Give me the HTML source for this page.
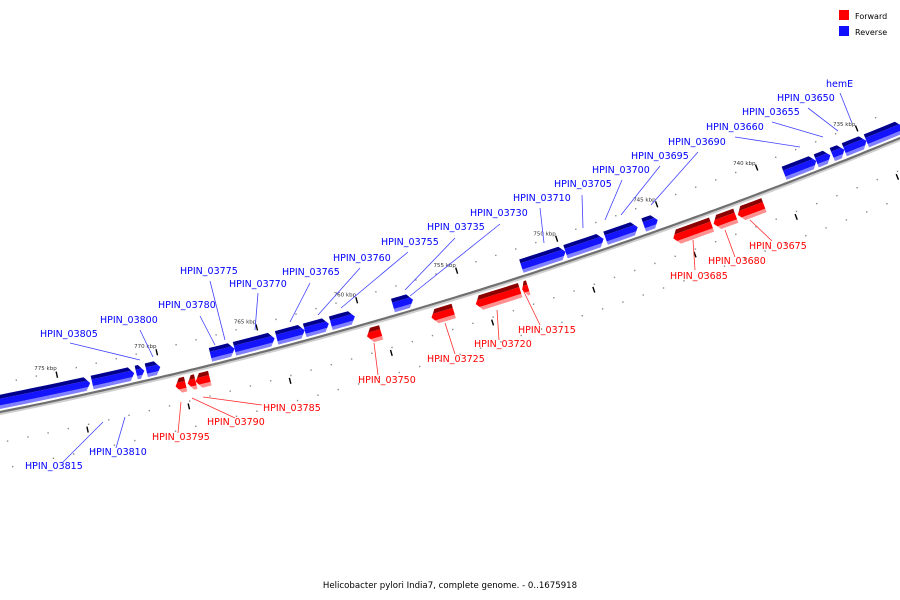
<!DOCTYPE html>
<html><head><meta charset="utf-8"><style>
html,body{margin:0;padding:0;background:#fff}
svg{display:block}
text{font-family:"DejaVu Sans","Liberation Sans",sans-serif}
</style></head><body>
<svg id="map" width="900" height="600" viewBox="0 0 900 600" xmlns="http://www.w3.org/2000/svg">
<g id="dots"></g>
<g id="ticks"></g>
<g id="leaders"></g>
<path id="backbone-shadow" fill="none" stroke="#cfcfcf" stroke-width="2"/>
<path id="backbone" fill="none" stroke="#707070" stroke-width="2.2"/>
<g id="genes"></g>
<g id="labels"></g>
<g>
<rect x="839" y="10" width="10" height="10" fill="#ff0000"/>
<text x="855" y="19" font-size="8" fill="#000">Forward</text>
<rect x="839" y="26" width="10" height="10" fill="#1010ff"/>
<text x="855" y="35" font-size="8" fill="#000">Reverse</text>
</g>
<text x="450" y="588" font-size="8.6" text-anchor="middle" fill="#000">Helicobacter pylori India7, complete genome. - 0..1675918</text>
</svg>
<script>
// gene data (kbp)
const revStarts = [777.6,772.9,770.7,770.2,767.0,765.8,763.7,762.3,761.0,757.9,751.5,749.3,747.3,745.4,738.4,736.8,736.0,735.4,734.3];
const revEnds   = [773.0,770.8,770.3,769.5,765.8,763.8,762.3,761.1,759.8,756.9,749.3,747.4,745.7,744.7,736.8,736.1,735.4,734.3,732.5];
const fwdStarts = [769.0,768.4,768.0,759.5,756.3,754.1,751.8,744.3,742.3,741.1];
const fwdEnds   = [768.5,768.0,767.3,758.8,755.2,751.9,751.5,742.4,741.2,739.8];
const majorTicks = [775,770,765,760,755,750,745,740,735];
const majorTickLabels = ["775 kbp","770 kbp","765 kbp","760 kbp","755 kbp","750 kbp","745 kbp","740 kbp","735 kbp"];
const labelNames = ["HPIN_03815","HPIN_03810","HPIN_03805","HPIN_03800","HPIN_03780","HPIN_03775","HPIN_03770","HPIN_03765","HPIN_03760","HPIN_03755","HPIN_03735","HPIN_03730","HPIN_03710","HPIN_03705","HPIN_03700","HPIN_03695","HPIN_03690","HPIN_03660","HPIN_03655","HPIN_03650","hemE",
 "HPIN_03675","HPIN_03680","HPIN_03685","HPIN_03715","HPIN_03720","HPIN_03725","HPIN_03750","HPIN_03785","HPIN_03790","HPIN_03795"];

const NS="http://www.w3.org/2000/svg";
const P0=[0,412],C=[450,323],P2=[900,138];
function kx(k){return (777.59-k)*20.1;}
function pt(x,d){ // point on curve at x, offset d along upward normal
  const t=Math.max(-0.05,Math.min(1.05,x/900));
  const y=(1-t)*(1-t)*P0[1]+2*t*(1-t)*C[1]+t*t*P2[1];
  const dy=2*(1-t)*(C[1]-P0[1])+2*t*(P2[1]-C[1]);
  const dx=900, L=Math.hypot(dx,dy);
  const nx=dy/L, ny=-dx/L;
  return [x+nx*d, y+ny*d];
}
function mk(tag,attrs,parent){const e=document.createElementNS(NS,tag);for(const k in attrs)e.setAttribute(k,attrs[k]);parent.appendChild(e);return e;}

// backbone
let dstr="",dsh="";
for(let x=-5;x<=905;x+=5){const p=pt(x,0),q=pt(x,-2);dstr+=(x===-5?"M":"L")+p[0].toFixed(1)+" "+p[1].toFixed(1);dsh+=(x===-5?"M":"L")+q[0].toFixed(1)+" "+q[1].toFixed(1);}
document.getElementById('backbone').setAttribute('d',dstr);
document.getElementById('backbone-shadow').setAttribute('d',dsh);

// dots
const dotsG=document.getElementById('dots');
for(let k=733;k<=778;k+=1){
  [28,-30,-56].forEach(function(off){
    const p=pt(kx(k+0.5),off);
    const c=mk('rect',{x:(p[0]-0.7).toFixed(1),y:(p[1]-0.7).toFixed(1),width:1.4,height:1.4,fill:'#8a8a8a'},dotsG);
    
    
  });
}
// ticks
const ticksG=document.getElementById('ticks');
majorTicks.forEach(function(k,i){
  const a=pt(kx(k)+10,22),b=pt(kx(k)+10,28);
  const l=mk('line',{x1:a[0],y1:a[1],x2:b[0],y2:b[1],stroke:'#000','stroke-width':1.4},ticksG);
  
  
  const a2=pt(kx(k-1)+8,-32),b2=pt(kx(k-1)+8,-38);
  const l2=mk('line',{x1:a2[0],y1:a2[1],x2:b2[0],y2:b2[1],stroke:'#000','stroke-width':1.4},ticksG);
  
  
  const tp=pt(kx(k),32);
  const t=mk('text',{x:tp[0].toFixed(1),y:tp[1].toFixed(1),'font-size':5.5,fill:'#333','text-anchor':'middle'},ticksG);
  t.textContent=majorTickLabels[i];
  
  
});

// genes
const genesG=document.getElementById('genes');
function strip(xa,xb,d0,d1,da,db,arrowRight,h){
  const mid=(d0+d1)/2, half=(d1-d0)/2;
  function ex(d){return h*Math.abs(d-mid)/half;}
  const pts=[];
  const n=Math.max(2,Math.ceil((xb-xa)/15));
  if(arrowRight){
    for(let i=0;i<=n;i++){const x=xa+(xb-h-xa)*i/n;pts.push(pt(x,da));}
    pts.push(pt(xb-ex(da),da));
    if(mid>da&&mid<db)pts.push(pt(xb,mid));
    pts.push(pt(xb-ex(db),db));
    for(let i=n;i>=0;i--){const x=xa+(xb-h-xa)*i/n;pts.push(pt(x,db));}
  } else {
    for(let i=0;i<=n;i++){const x=xa+h+(xb-xa-h)*i/n;pts.push(pt(x,da));}
    for(let i=n;i>=0;i--){const x=xa+h+(xb-xa-h)*i/n;pts.push(pt(x,db));}
    pts.push(pt(xa+ex(db),db));
    if(mid>da&&mid<db)pts.push(pt(xa,mid));
    pts.push(pt(xa+ex(da),da));
  }
  return pts.map(p=>p[0].toFixed(1)+","+p[1].toFixed(1)).join(" ");
}
function drawGene(s,e,fwd,name){
  let xa=kx(s),xb=kx(e); if(xa>xb){const t=xa;xa=xb;xb=t;}
  const g=mk('g',{},genesG);
  
  
  const h=Math.min(5,(xb-xa)*0.6);
  let d0,d1,cols;
  if(!fwd){d0=3;d1=17;cols=['#8080ff','#1414ff','#00008c'];}
  else{d0=-20;d1=-5;cols=['#ff9090','#ff0000','#8c0000'];}
  const L=d0+(d1-d0)*0.25, U=d0+(d1-d0)*0.72;
  mk('polygon',{points:strip(xa,xb,d0,d1,d0,L,!fwd,h),fill:cols[0]},g);
  mk('polygon',{points:strip(xa,xb,d0,d1,L,U,!fwd,h),fill:cols[1]},g);
  mk('polygon',{points:strip(xa,xb,d0,d1,U,d1,!fwd,h),fill:cols[2]},g);
}
revStarts.forEach((s,i)=>drawGene(s,revEnds[i],false,'reverse-gene'));
fwdStarts.forEach((s,i)=>drawGene(s,fwdEnds[i],true,'forward-gene'));

// labels: [textX, baseline, lineX1, lineY1, lineX2, lineY2]
const labelPos=[
[25,469,63,462,103,422],[89,455,116,448,125,417],[40,337,70,343,140,360],[100,323,140,330,153,357],
[158,308,200,316,215,345],[180,274,210,281,225,340],[229,287,258,293,255,330],[282,275,310,283,290,322],
[333,261,360,268,318,315],[381,245,408,252,341,308],[427,230,455,238,405,290],[470,216,500,224,410,296],
[513,201,540,208,544,243],[554,187,582,195,583,228],[592,173,622,180,605,220],[631,159,660,166,621,215],
[668,145,698,152,651,205],[706,130,735,137,800,147],[742,115,772,122,823,137],[777,101,808,108,838,131],[826,87,840,93,852,123],
[749,249,772,241,750,220],[708,264,735,257,725,230],[670,279,695,270,693,240],[518,333,540,325,523,290],
[474,347,499,340,497,310],[427,362,455,354,445,323],[358,383,378,375,374,343],[263,411,262,405,203,397],
[207,425,235,418,192,398],[152,440,178,433,181,402]];
const labG=document.getElementById('labels'), ldG=document.getElementById('leaders');
labelNames.forEach(function(nm,i){
  const p=labelPos[i]; const red=i>=21; const col=red?'#ff0000':'#0000ff';
  const l=mk('line',{x1:p[2],y1:p[3],x2:p[4],y2:p[5],stroke:red?'#ff3030':'#4040ff','stroke-width':0.8},ldG);
  
  
  const t=mk('text',{x:p[0],y:p[1],'font-size':9.5,fill:col},labG);
  t.textContent=nm;
  
  
});
</script>
</body></html>
